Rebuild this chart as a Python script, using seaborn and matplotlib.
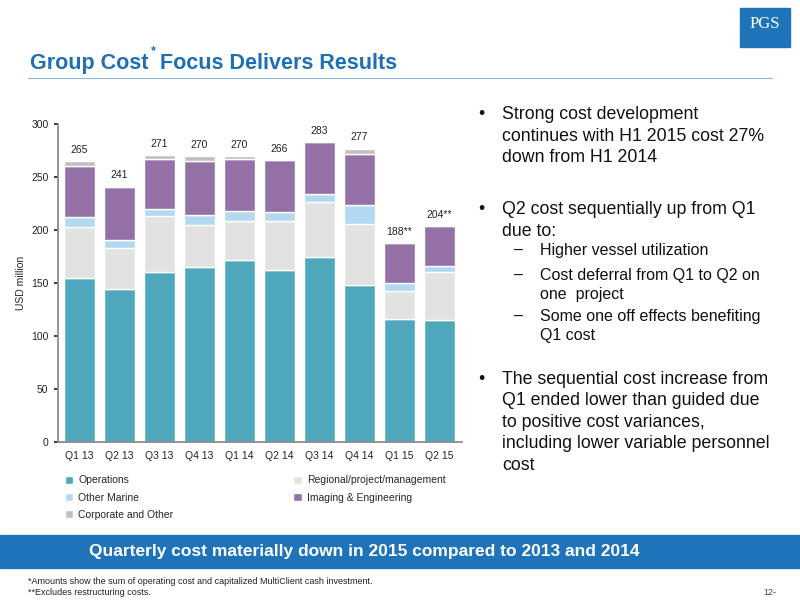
import numpy as np
import pandas as pd
import matplotlib.pyplot as plt
import seaborn as sns
from matplotlib.patches import Rectangle

quarters = ['Q1 13', 'Q2 13', 'Q3 13', 'Q4 13', 'Q1 14', 'Q2 14', 'Q3 14', 'Q4 14', 'Q1 15', 'Q2 15']
operations = [155, 145, 161, 165, 172, 162, 175, 148, 116, 115]
regional = [48, 38, 52, 40, 37, 47, 52, 58, 27, 46]
other_marine = [9, 8, 7, 9, 9, 8, 7, 18, 7, 5]
imaging = [49, 50, 47, 51, 49, 49, 49, 48, 38, 38]
corporate = [4, 0, 4, 5, 3, 0, 0, 5, 0, 0]
totals = ['265', '241', '271', '270', '270', '266', '283', '277', '188**', '204**']

series = [('Operations', operations, '#4ea7bb'),
          ('Regional/project/management', regional, '#e2e2e2'),
          ('Other Marine', other_marine, '#b3d9f2'),
          ('Imaging & Engineering', imaging, '#9370a6'),
          ('Corporate and Other', corporate, '#c0c0c0')]

sns.set_theme(style='white')
plt.rcParams['font.family'] = ['Liberation Sans', 'DejaVu Sans']

fig = plt.figure(figsize=(8, 6), dpi=100)
ax = fig.add_axes([0.072, 0.263, 0.505, 0.53])

bottom = np.zeros(len(quarters))
for name, vals, col in series:
    df = pd.DataFrame({'q': quarters, 'v': vals})
    sns.barplot(data=df, x='q', y='v', bottom=bottom, color=col, label=name,
                width=0.78, ax=ax, saturation=1)
    bottom = bottom + np.array(vals)

for i, t in enumerate(totals):
    ax.text(i, bottom[i] + 6, t, ha='center', va='bottom', fontsize=7.5, color='#222222')

ax.set_ylim(0, 300)
ax.set_xlim(-0.55, 9.55)
ax.set_yticks(range(0, 301, 50))
ax.tick_params(axis='both', labelsize=7.5, length=3, colors='#222222', left=True)
ax.set_xlabel('')
ax.set_ylabel('USD million', fontsize=7.5)
for s in ['top', 'right']:
    ax.spines[s].set_visible(False)
ax.spines['left'].set_color('#888888')
ax.spines['bottom'].set_color('#888888')
h, l = ax.get_legend_handles_labels()
order = [0, 2, 4, 1, 3]
ax.legend([h[i] for i in order], [l[i] for i in order], loc='upper left',
          bbox_to_anchor=(-0.005, -0.075), ncol=2, frameon=False,
          fontsize=7.5, handlelength=0.8, handleheight=0.8, handletextpad=0.5,
          columnspacing=11.5, labelspacing=0.7)

# title
tc = '#1f6fb5'
fig.text(0.037, 0.885, 'Group Cost', fontsize=15.5, fontweight='bold', color=tc)
fig.text(0.189, 0.91, '*', fontsize=9, fontweight='bold', color=tc)
fig.text(0.2, 0.885, 'Focus Delivers Results', fontsize=15.5, fontweight='bold', color=tc)
fig.add_artist(plt.Line2D([0.035, 0.965], [0.87, 0.87], color=tc, lw=0.8, alpha=0.5))

# logo
fig.add_artist(Rectangle((0.925, 0.922), 0.063, 0.065, color='#1f73b8'))
fig.text(0.956, 0.96, 'PGS', fontsize=12, color='white', ha='center', va='center',
         family=['Liberation Serif'])

# right bullets
fs = 12.8
def t(x, y, s, **kw):
    fig.text(x, y, s, fontsize=kw.pop('fs', fs), va='top', color='#111111',
             linespacing=kw.pop('ls', 1.35), **kw)
t(0.598, 0.823, '•')
t(0.628, 0.823, 'Strong cost development\ncontinues with H1 2015 cost 27%\ndown from H1 2014')
t(0.598, 0.665, '•')
t(0.628, 0.665, 'Q2 cost sequentially up from Q1\ndue to:')
t(0.642, 0.595, '–', fs=11.5)
t(0.675, 0.595, 'Higher vessel utilization', fs=11.5)
t(0.642, 0.553, '–', fs=11.5)
t(0.675, 0.553, 'Cost deferral from Q1 to Q2 on\none  project', fs=11.5)
t(0.642, 0.485, '–', fs=11.5)
t(0.675, 0.485, 'Some one off effects benefiting\nQ1 cost', fs=11.5)
t(0.598, 0.382, '•')
t(0.628, 0.382, 'The sequential cost increase from\nQ1 ended lower than guided due\nto positive cost variances,\nincluding lower variable personnel\ncost')

# banner
fig.add_artist(Rectangle((0.0, 0.053), 1.0, 0.055, color='#1f73b8'))
fig.text(0.455, 0.081, 'Quarterly cost materially down in 2015 compared to 2013 and 2014',
         fontsize=12.5, fontweight='bold', color='white', ha='center', va='center')

fig.text(0.035, 0.027, '*Amounts show the sum of operating cost and capitalized MultiClient cash investment.',
         fontsize=6.5, color='#222222')
fig.text(0.035, 0.008, '**Excludes restructuring costs.', fontsize=6.5, color='#222222')
fig.text(0.97, 0.008, '12-', fontsize=6.5, color='#444444', ha='right')

fig.savefig('out.png', dpi=100)
